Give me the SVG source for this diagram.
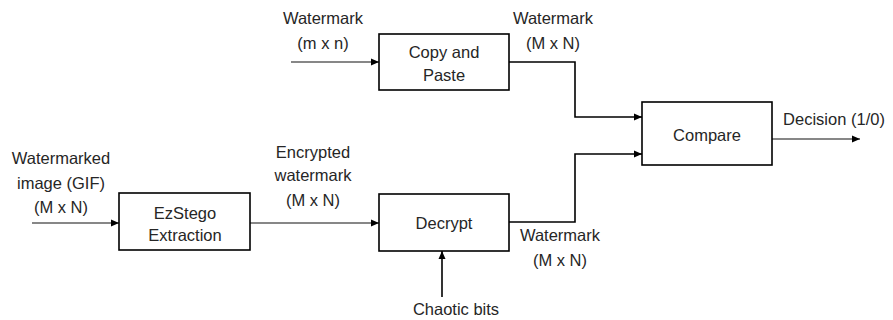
<svg xmlns="http://www.w3.org/2000/svg" width="893" height="320" viewBox="0 0 893 320">
<style>
.box{fill:#fff;stroke:#000;stroke-width:1.6}
.ln{fill:none;stroke:#000;stroke-width:1.6}
.thin{fill:none;stroke:#111;stroke-width:1.1}
.t{font-family:"Liberation Sans",Arial,sans-serif;font-size:16.5px;fill:#262626;text-anchor:middle;dominant-baseline:central}
</style>
<defs>
<marker id="ah" markerWidth="8" markerHeight="8" refX="8" refY="4" orient="auto" markerUnits="userSpaceOnUse">
<path d="M0,0.5 L8,4 L0,7.5 Z" fill="#000"/>
</marker>
</defs>
<rect width="893" height="320" fill="#fff"/>
<g id="connectors">
<path class="thin" d="M291,62 L379,62" marker-end="url(#ah)"/>
<path class="ln" d="M509,62 L575,62 L575,117 L642,117" marker-end="url(#ah)"/>
<path class="ln" d="M509,222 L575,222 L575,154 L642,154" marker-end="url(#ah)"/>
<path class="thin" d="M772,139 L860,139" marker-end="url(#ah)"/>
<path class="thin" d="M32,223 L119,223" marker-end="url(#ah)"/>
<path class="thin" d="M250,223 L379,223" marker-end="url(#ah)"/>
<path class="ln" d="M442,297 L442,251" marker-end="url(#ah)"/>
</g>
<g id="copy-paste">
<rect class="box" x="379" y="34" width="130" height="56"/>
<text class="t" x="444" y="52">Copy and</text>
<text class="t" x="444" y="75">Paste</text>
</g>
<g id="compare">
<rect class="box" x="642" y="102" width="130" height="63"/>
<text class="t" x="707" y="135">Compare</text>
</g>
<g id="ezstego">
<rect class="box" x="119" y="193" width="131" height="57"/>
<text class="t" x="185" y="213">EzStego</text>
<text class="t" x="185" y="235">Extraction</text>
</g>
<g id="decrypt">
<rect class="box" x="379" y="194" width="130" height="57"/>
<text class="t" x="444" y="223">Decrypt</text>
</g>
<g id="labels">
<text class="t" x="323" y="18">Watermark</text>
<text class="t" x="323" y="43">(m x n)</text>
<text class="t" x="553" y="18">Watermark</text>
<text class="t" x="553" y="43">(M x N)</text>
<text class="t" x="61" y="158">Watermarked</text>
<text class="t" x="61" y="183">image (GIF)</text>
<text class="t" x="61" y="207">(M x N)</text>
<text class="t" x="313" y="152">Encrypted</text>
<text class="t" x="313" y="175">watermark</text>
<text class="t" x="313" y="200">(M x N)</text>
<text class="t" x="560" y="235">Watermark</text>
<text class="t" x="560" y="260">(M x N)</text>
<text class="t" x="834" y="119">Decision (1/0)</text>
<text class="t" x="456" y="309">Chaotic bits</text>
</g>
</svg>
